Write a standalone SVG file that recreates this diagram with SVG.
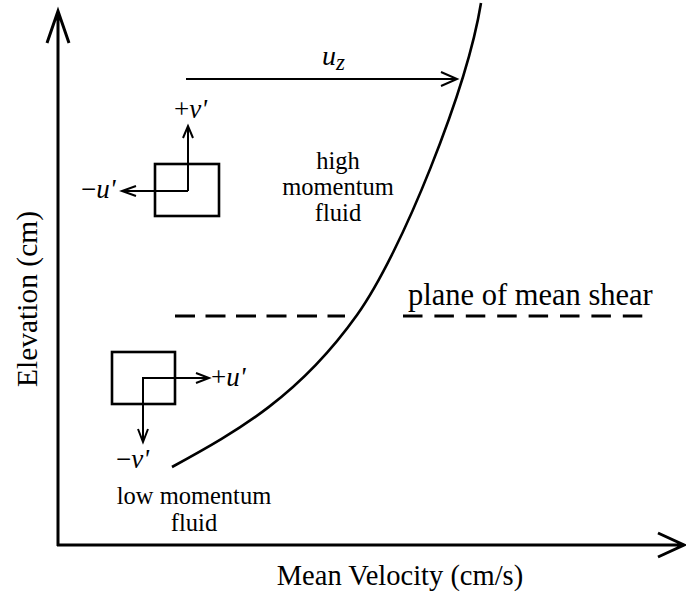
<svg xmlns="http://www.w3.org/2000/svg" width="686" height="598" viewBox="0 0 686 598">
<style>
.t{font-family:"Liberation Serif","Times New Roman",serif;fill:#000}
.i{font-style:italic}
.ln{fill:none;stroke:#000;stroke-linecap:butt;stroke-linejoin:miter}
</style>
<rect width="686" height="598" fill="#fff"/>
<g id="axes">
<path class="ln" d="M58,546 V12 M47,43 L58,11 L69,43" stroke-width="3"/>
<path class="ln" d="M57,545 H684 M658,533 L684,545 L658,557" stroke-width="3"/>
<text class="t" x="400" y="585" font-size="28.5" text-anchor="middle">Mean Velocity (cm/s)</text>
<text class="t" font-size="29.5" text-anchor="middle" transform="translate(37,299) rotate(-90)">Elevation (cm)</text>
</g>
<g id="profile">
<path class="ln" stroke-width="2.6" d="M172,467 C240,430 300,395 357,315 C402,252 467,89 481,3"/>
</g>
<g id="shear-plane">
<path class="ln" stroke-width="2.8" stroke-dasharray="20 10.5" d="M175,316 H345"/>
<path class="ln" stroke-width="2.8" stroke-dasharray="19.5 11.9" d="M403,316 H643"/>
<text class="t" x="408" y="305" font-size="30.5">plane of mean shear</text>
</g>
<g id="uz">
<path class="ln" stroke-width="2" d="M186,79 H457 M441,72 L457,79 L441,86"/>
<text class="t i" x="322" y="65" font-size="28">u<tspan font-size="23" dy="5">z</tspan></text>
</g>
<g id="upper-eddy">
<rect class="ln" x="155" y="164" width="64" height="52" stroke-width="2.6"/>
<path class="ln" stroke-width="2" d="M188,191 V126 M183,138 L188,126 L193,138 M188,191 H122 M136,186 L122,191 L136,196"/>
<text class="t" x="174" y="118" font-size="27">+<tspan class="i">v'</tspan></text>
<text class="t" x="81" y="198" font-size="27">−<tspan class="i">u'</tspan></text>
</g>
<g id="lower-eddy">
<rect class="ln" x="112" y="352" width="63" height="52" stroke-width="2.6"/>
<path class="ln" stroke-width="2" d="M143,440 V378 H209 M196,373 L209,378 L196,383 M138,429 L143,442 L148,429"/>
<text class="t" x="211" y="386" font-size="27">+<tspan class="i">u'</tspan></text>
<text class="t" x="116" y="468" font-size="27">−<tspan class="i">v'</tspan></text>
</g>
<g id="labels">
<text class="t" font-size="24.5" text-anchor="middle"><tspan x="338" y="169">high</tspan><tspan x="338" y="195">momentum</tspan><tspan x="338" y="221">fluid</tspan></text>
<text class="t" font-size="24.5" text-anchor="middle"><tspan x="194" y="504">low momentum</tspan><tspan x="194" y="531">fluid</tspan></text>
</g>
</svg>
